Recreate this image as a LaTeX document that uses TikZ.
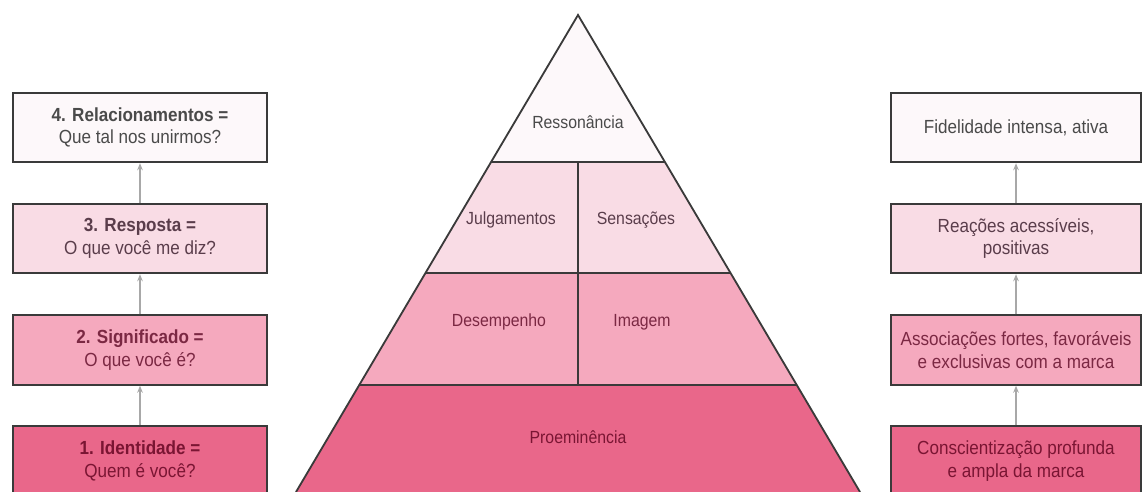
\documentclass[tikz,border=0pt]{standalone}
\usepackage{fontspec}
\setmainfont{Liberation Sans}[FakeStretch=0.9]
\usetikzlibrary{arrows.meta}

\definecolor{fill_4}{HTML}{FDF8FA}
\definecolor{fill_3}{HTML}{F9DCE5}
\definecolor{fill_2}{HTML}{F5A9BE}
\definecolor{fill_1}{HTML}{E9678A}
\definecolor{text_4}{HTML}{4A4A4A}
\definecolor{text_3}{HTML}{5A3D4B}
\definecolor{text_2}{HTML}{7B2843}
\definecolor{text_1}{HTML}{7A1533}
\definecolor{frame}{HTML}{3A3A3A}
\definecolor{conn}{HTML}{A8A8A8}

\begin{document}
\begin{tikzpicture}[
		x=0.025cm, y=-0.025cm,
		every node/.style={inner sep=0pt, align=center, font=\fontsize{13.5}{16}\selectfont},
		box/.style={rectangle, draw=frame, line width=1.3pt, minimum height=1.74cm},
		left box/.style={box, minimum width=6.35cm},
		right box/.style={box, minimum width=6.25cm},
		tier/.style={font=\fontsize{12.5}{15}\selectfont},
		rise/.style={draw=conn, line width=0.9pt, -{Stealth[length=5pt, width=4pt]}}
	]
  \useasboundingbox (0, 0) rectangle (1143, 492);
  % pyramid corners
  \coordinate (apex) at (578, 15);
  \coordinate (l_1) at (491, 162);
  \coordinate (r_1) at (665, 162);
  \coordinate (l_2) at (425, 273);
  \coordinate (r_2) at (731, 273);
  \coordinate (l_3) at (359, 385);
  \coordinate (r_3) at (797, 385);
  \coordinate (l_4) at (296, 492);
  \coordinate (r_4) at (860, 492);
  \coordinate (m_1) at (578, 162);
  \coordinate (m_3) at (578, 385);
  \fill [fill_4] (apex) -- (l_1) -- (r_1) -- cycle;
  \fill [fill_3] (l_1) -- (l_2) -- (r_2) -- (r_1) -- cycle;
  \fill [fill_2] (l_2) -- (l_3) -- (r_3) -- (r_2) -- cycle;
  \fill [fill_1] (l_3) -- (l_4) -- (r_4) -- (r_3) -- cycle;
  \draw [frame, line width=1.3pt] (l_4) -- (apex) -- (r_4);
  \draw [frame, line width=1.3pt] (l_1) -- (r_1);
  \draw [frame, line width=1.3pt] (l_2) -- (r_2);
  \draw [frame, line width=1.3pt] (l_3) -- (r_3);
  \draw [frame, line width=1.3pt] (m_1) -- (m_3);
  \node (resson) [tier, text=text_4] at (578, 122) {Ressonância};
  \node (julg) [tier, text=text_3] at (511, 220) {Julgamentos};
  \node (sens) [tier, text=text_3] at (636, 220) {Sensações};
  \node (desemp) [tier, text=text_2] at (499, 322) {Desempenho};
  \node (imagem) [tier, text=text_2] at (642, 322) {Imagem};
  \node (proem) [tier, text=text_1] at (578, 437) {Proeminência};
  % steps on the left
  \node (step_4) [left box, fill=fill_4, text=text_4] at (140, 127.5) {\textbf{4. Relacionamentos =}\\Que tal nos unirmos?};
  \node (step_3) [left box, fill=fill_3, text=text_3] at (140, 238.5) {\textbf{3. Resposta =}\\O que você me diz?};
  \node (step_2) [left box, fill=fill_2, text=text_2] at (140, 350) {\textbf{2. Significado =}\\O que você é?};
  \node (step_1) [left box, fill=fill_1, text=text_1] at (140, 461) {\textbf{1. Identidade =}\\Quem é você?};
  % goals on the right
  \node (goal_4) [right box, fill=fill_4, text=text_4] at (1016, 127.5) {Fidelidade intensa, ativa};
  \node (goal_3) [right box, fill=fill_3, text=text_3] at (1016, 238.5) {Reações acessíveis,\\positivas};
  \node (goal_2) [right box, fill=fill_2, text=text_2] at (1016, 350) {Associações fortes, favoráveis\\e exclusivas com a marca};
  \node (goal_1) [right box, fill=fill_1, text=text_1] at (1016, 461) {Conscientização profunda\\e ampla da marca};
  \draw (step_1) edge [rise] (step_2);
  \draw (step_2) edge [rise] (step_3);
  \draw (step_3) edge [rise] (step_4);
  \draw (goal_1) edge [rise] (goal_2);
  \draw (goal_2) edge [rise] (goal_3);
  \draw (goal_3) edge [rise] (goal_4);
\end{tikzpicture}
\end{document}
